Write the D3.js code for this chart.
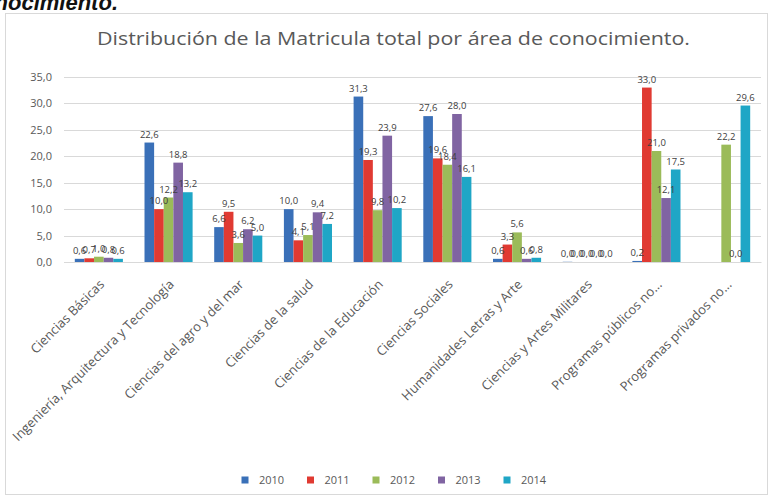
<!DOCTYPE html>
<html>
<head>
<meta charset="utf-8">
<script src="https://cdn.jsdelivr.net/npm/d3@7"></script>
<style>
  body { margin: 0; background: #fff; }
  text { font-family: "Open Sans", "Noto Sans", sans-serif; }
</style>
</head>
<body>
<script>
/* global d3 */

const categories = [
  'Ciencias Básicas',
  'Ingeniería, Arquitectura y Tecnología',
  'Ciencias del agro y del mar',
  'Ciencias de la salud',
  'Ciencias de la Educación',
  'Ciencias Sociales',
  'Humanidades Letras y Arte',
  'Ciencias y Artes Militares',
  'Programas públicos no...',
  'Programas privados no...'
]

const years = ['2010', '2011', '2012', '2013', '2014']

const v2010 = [0.6, 22.6, 6.6, 10.0, 31.3, 27.6, 0.6, 0.04, 0.2, null]
const v2011 = [0.7, 10.0, 9.5, 4.1, 19.3, 19.6, 3.3, 0.0, 33.0, null]
const v2012 = [1.0, 12.2, 3.6, 5.1, 9.8, 18.4, 5.6, 0.0, 21.0, 22.2]
const v2013 = [0.8, 18.8, 6.2, 9.4, 23.9, 28.0, 0.6, 0.0, 12.1, 0.0]
const v2014 = [0.6, 13.2, 5.0, 7.2, 10.2, 16.1, 0.8, 0.0, 17.5, 29.6]

const yTicks = [0, 5, 10, 15, 20, 25, 30, 35]

const colors = ['#3a70b8', '#e03a32', '#9bbb59', '#8064a2', '#1fa6c6']

const series = [v2010, v2011, v2012, v2013, v2014]

const w = 774
const h = 499

const svg = d3.select('body').append('svg')
  .attr('width', w)
  .attr('height', h)

// piece of the document heading above the chart
svg.append('text')
  .attr('x', 118)
  .attr('y', 10)
  .attr('text-anchor', 'end')
  .style('font-family', '"Liberation Sans", sans-serif')
  .style('font-weight', 'bold')
  .style('font-style', 'italic')
  .style('font-size', '22px')
  .attr('fill', '#111')
  .text('conocimiento.')

svg.append('defs').append('clipPath')
  .attr('id', 'frame')
  .append('rect')
    .attr('x', 5).attr('y', 13).attr('width', 763).attr('height', 482)

svg.append('rect')
  .attr('x', 5.5).attr('y', 13.5).attr('width', 762).attr('height', 481)
  .attr('fill', '#fff')
  .attr('stroke', '#d9d9d9')

const g = svg.append('g').attr('clip-path', 'url(#frame)')

g.append('text')
  .attr('x', 97)
  .attr('y', 45)
  .attr('textLength', 593)
  .attr('lengthAdjust', 'spacingAndGlyphs')
  .style('font-size', '19px')
  .attr('fill', '#595959')
  .text('Distribución de la Matricula total por área de conocimiento.')

const x = d3.scaleBand()
  .domain(categories)
  .range([64, 761])
  .paddingInner(0.31)
  .paddingOuter(0.155)

const xs = d3.scaleBand()
  .domain(years)
  .range([0, x.bandwidth()])

const y = d3.scaleLinear()
  .domain([0, 35])
  .range([262, 77])

const fmt = v => d3.format('.1f')(v).replace('.', ',')

// gridlines
g.append('g')
  .selectAll('line')
  .data(yTicks)
  .enter()
    .append('line')
    .attr('x1', 64)
    .attr('x2', 761)
    .attr('y1', d => Math.round(y(d)) + 0.5)
    .attr('y2', d => Math.round(y(d)) + 0.5)
    .attr('stroke', '#d9d9d9')

const yAxis = g.append('g')
  .attr('transform', 'translate(52,0)')
  .call(d3.axisLeft(y).tickValues(yTicks).tickSize(0).tickPadding(0).tickFormat(fmt))

yAxis.select('.domain').remove()
yAxis.selectAll('text')
  .style('font-size', '11px')
  .style('font-family', '"Open Sans", sans-serif')
  .attr('fill', '#595959')

// bars
const flat = []
series.forEach((s, si) => {
  s.forEach((v, ci) => {
    if (v !== null) flat.push({ cat: categories[ci], year: years[si], value: v, color: colors[si] })
  })
})

const bars = g.append('g')

bars.selectAll('rect')
  .data(flat)
  .enter()
    .append('rect')
    .attr('x', d => x(d.cat) + xs(d.year))
    .attr('width', xs.bandwidth())
    .attr('y', d => y(d.value))
    .attr('height', d => y(0) - y(d.value))
    .attr('fill', d => d.color)

bars.selectAll('text')
  .data(flat)
  .enter()
    .append('text')
    .attr('x', d => x(d.cat) + xs(d.year) + xs.bandwidth() / 2)
    .attr('y', d => y(d.value) - 5)
    .attr('text-anchor', 'middle')
    .style('font-size', '9.5px')
    .attr('fill', '#404040')
    .text(d => fmt(d.value))

// category labels
const xAxis = g.append('g')
  .attr('transform', 'translate(0,262)')
  .call(d3.axisBottom(x).tickSize(0).tickPadding(0))

xAxis.select('.domain').attr('stroke', '#d9d9d9')
xAxis.selectAll('text')
  .style('font-size', '13px')
  .style('font-family', '"Open Sans", sans-serif')
  .attr('fill', '#595959')
  .attr('text-anchor', 'end')
  .attr('dy', '0.35em')
  .attr('transform', 'translate(3,20) rotate(-45)')

// legend
const legend = g.append('g')
  .selectAll('g')
  .data(years)
  .enter()
    .append('g')
    .attr('transform', (d, i) => `translate(${245 + i * 65.5},480)`)

legend.append('rect')
  .attr('x', -3.5).attr('y', -3.5).attr('width', 7).attr('height', 7)
  .attr('fill', (d, i) => colors[i])

legend.append('text')
  .attr('x', 14)
  .attr('dy', '0.35em')
  .style('font-size', '11px')
  .attr('fill', '#595959')
  .text(d => d)
</script>
</body>
</html>
